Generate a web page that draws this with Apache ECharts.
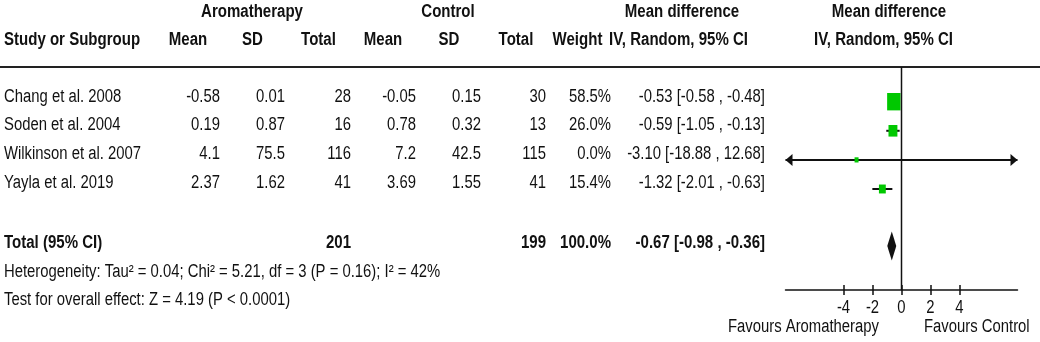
<!DOCTYPE html>
<html>
<head>
<meta charset="utf-8">
<script src="https://cdn.jsdelivr.net/npm/echarts@6/dist/echarts.min.js"></script>
<style>
  html, body { margin: 0; padding: 0; background: #fff; }
  #chart { width: 1040px; height: 342px; }
</style>
</head>
<body>
<div id="chart"></div>
<script>
// study data
const studies = ['Chang et al. 2008', 'Soden et al. 2004', 'Wilkinson et al. 2007', 'Yayla et al. 2019'];
const aromaMean = [-0.58, 0.19, 4.1, 2.37];
const aromaSD = [0.01, 0.87, 75.5, 1.62];
const aromaN = [28, 16, 116, 41];
const ctrlMean = [-0.05, 0.78, 7.2, 3.69];
const ctrlSD = [0.15, 0.32, 42.5, 1.55];
const ctrlN = [30, 13, 115, 41];
const weight = [58.5, 26.0, 0.0, 15.4];
const md = [-0.53, -0.59, -3.10, -1.32];
const ciLow = [-0.58, -1.05, -18.88, -2.01];
const ciHigh = [-0.48, -0.13, 12.68, -0.63];

// pooled result
const totalAromaN = 201;
const totalCtrlN = 199;
const totalMd = -0.67;
const totalLow = -0.98;
const totalHigh = -0.36;

const axisTicks = [-4, -2, 0, 2, 4];
const heterogeneity = 'Heterogeneity: Tau\u00b2 = 0.04; Chi\u00b2 = 5.21, df = 3 (P = 0.16); I\u00b2 = 42%';
const overallEffect = 'Test for overall effect: Z = 4.19 (P < 0.0001)';

const FONT = "'Liberation Sans', Arial, sans-serif";
const INK = '#111';
const GREEN = '#00c800';
const FS = 18;
// the source uses a narrow face; squeeze the regular one
const SQUEEZE = 0.825;
const SQUEEZE_BOLD = 0.835;

const fmt2 = v => v.toFixed(2);
const ciText = (m, lo, hi) => `${fmt2(m)} [${fmt2(lo)} , ${fmt2(hi)}]`;

// right edges of the numeric table columns
const colRight = [220, 285, 351, 416, 481, 546, 611, 765];
const TOTAL_TEXT_ROW = 5.08;
const TOTAL_PLOT_ROW = 4.96;

const tableRows = studies.map((name, i) => ({
    row: i,
    bold: false,
    cells: [name, String(aromaMean[i]), String(aromaSD[i]), String(aromaN[i]),
        String(ctrlMean[i]), String(ctrlSD[i]), String(ctrlN[i]),
        weight[i].toFixed(1) + '%', ciText(md[i], ciLow[i], ciHigh[i])]
}));
tableRows.push({
    row: TOTAL_TEXT_ROW,
    bold: true,
    cells: ['Total (95% CI)', '', '', String(totalAromaN), '', '', String(totalCtrlN),
        '100.0%', ciText(totalMd, totalLow, totalHigh)]
});

const X_MIN = -8, X_MAX = 8;
const Y_MIN = -1.192, Y_MAX = 6.471;

// text anchored at (x, y), squeezed horizontally around the anchor
const txt = (text, x, y, align, bold) => ({
    type: 'text',
    silent: true,
    x, y,
    scaleX: bold ? SQUEEZE_BOLD : SQUEEZE,
    scaleY: 1,
    style: {
        text, x: 0, y: 0,
        align: align, verticalAlign: 'middle',
        fontSize: FS, fontFamily: FONT, fontWeight: bold ? 'bold' : 'normal',
        fill: INK
    }
});

const chart = echarts.init(document.getElementById('chart'));

const option = {
    animation: false,
    backgroundColor: '#fff',
    grid: [
        { left: 785.5, width: 232, top: 67, height: 223 },   // forest plot
        { left: 0, width: 1040, top: 67, height: 223 }        // table text
    ],
    xAxis: [
        {
            gridIndex: 0, type: 'value', min: X_MIN, max: X_MAX, position: 'bottom',
            axisLine: { onZero: false, lineStyle: { color: INK, width: 1.5 } },
            axisTick: { customValues: axisTicks, inside: true, length: 5, lineStyle: { color: INK, width: 1.5 } },
            axisLabel: { show: false },
            splitLine: { show: false }
        },
        {
            gridIndex: 0, type: 'value', min: X_MIN, max: X_MAX, position: 'bottom', offset: 0,
            axisLine: { show: false, onZero: false },
            axisTick: { customValues: axisTicks, inside: false, length: 5, lineStyle: { color: INK, width: 1.5 } },
            axisLabel: { show: false },
            splitLine: { show: false }
        },
        { gridIndex: 1, type: 'value', min: 0, max: 1040, show: false }
    ],
    yAxis: [
        { gridIndex: 0, type: 'value', min: Y_MIN, max: Y_MAX, inverse: true, show: false },
        { gridIndex: 1, type: 'value', min: -1.031, max: 6.712, inverse: true, show: false }
    ],
    graphic: [
        { type: 'line', silent: true, shape: { x1: 0, y1: 67, x2: 1040, y2: 67 }, style: { stroke: '#222', lineWidth: 2 } },
        txt('Aromatherapy', 252, 12, 'center', true),
        txt('Control', 448, 12, 'center', true),
        txt('Mean difference', 682, 12, 'center', true),
        txt('Mean difference', 889, 12, 'center', true),
        txt('Study or Subgroup', 4, 40, 'left', true),
        txt('Mean', 188, 40, 'center', true),
        txt('SD', 252.5, 40, 'center', true),
        txt('Total', 318.5, 40, 'center', true),
        txt('Mean', 383, 40, 'center', true),
        txt('SD', 449, 40, 'center', true),
        txt('Total', 516, 40, 'center', true),
        txt('Weight', 577.5, 40, 'center', true),
        txt('IV, Random, 95% CI', 678.5, 40, 'center', true),
        txt('IV, Random, 95% CI', 883.5, 40, 'center', true),
        txt(heterogeneity, 4, 272, 'left', false),
        txt(overallEffect, 4, 300, 'left', false),
        txt('Favours Aromatherapy', 879, 327, 'right', false),
        txt('Favours Control', 924, 327, 'left', false)
    ],
    series: [
        {
            // table body
            type: 'custom',
            xAxisIndex: 2, yAxisIndex: 1,
            silent: true,
            data: tableRows.map(r => [0, r.row]),
            renderItem: (params, api) => {
                const r = tableRows[params.dataIndex];
                const y = api.coord([0, api.value(1)])[1];
                const children = [txt(r.cells[0], 4, y, 'left', r.bold)];
                colRight.forEach((cx, k) => {
                    const s = r.cells[k + 1];
                    if (s) children.push(txt(s, api.coord([cx, 0])[0], y, 'right', r.bold));
                });
                return { type: 'group', children };
            }
        },
        {
            // zero line
            type: 'line',
            xAxisIndex: 0, yAxisIndex: 0,
            silent: true, symbol: 'none',
            data: [[0, Y_MIN], [0, Y_MAX]],
            lineStyle: { color: INK, width: 1.5 }
        },
        {
            // axis tick labels (narrow face, so drawn here)
            type: 'custom',
            xAxisIndex: 0, yAxisIndex: 0,
            silent: true,
            clip: false,
            data: axisTicks.map(v => [v, Y_MAX]),
            renderItem: (params, api) => {
                const p = api.coord([api.value(0), api.value(1)]);
                return txt(String(api.value(0)), p[0], p[1] + 18, 'center', false);
            }
        },
        {
            // study estimates with CI
            type: 'custom',
            xAxisIndex: 0, yAxisIndex: 0,
            silent: true,
            data: studies.map((_, i) => [md[i], ciLow[i], ciHigh[i], i, weight[i]]),
            renderItem: (params, api) => {
                const m = api.value(0), lo = api.value(1), hi = api.value(2), r = api.value(3), w = api.value(4);
                const clamp = v => Math.max(X_MIN, Math.min(X_MAX, v));
                const y = api.coord([0, r])[1];
                const xl = api.coord([clamp(lo), r])[0];
                const xh = api.coord([clamp(hi), r])[0];
                const xm = api.coord([m, r])[0];
                const children = [{
                    type: 'line',
                    shape: { x1: xl, y1: y, x2: xh, y2: y },
                    style: { stroke: INK, lineWidth: 2 }
                }];
                if (lo < X_MIN) {
                    children.push({ type: 'polygon', shape: { points: [[xl, y], [xl + 7, y - 6], [xl + 7, y + 6]] }, style: { fill: INK } });
                }
                if (hi > X_MAX) {
                    children.push({ type: 'polygon', shape: { points: [[xh, y], [xh - 7, y - 6], [xh - 7, y + 6]] }, style: { fill: INK } });
                }
                const s = Math.max(4, Math.sqrt(w) * 1.75);
                const h = s * 1.3;
                children.push({ type: 'rect', shape: { x: xm - s / 2, y: y - h / 2, width: s, height: h }, style: { fill: GREEN } });
                return { type: 'group', children };
            }
        },
        {
            // pooled diamond
            type: 'custom',
            xAxisIndex: 0, yAxisIndex: 0,
            silent: true,
            data: [[totalMd, totalLow, totalHigh, TOTAL_PLOT_ROW]],
            renderItem: (params, api) => {
                const m = api.value(0), lo = api.value(1), hi = api.value(2), r = api.value(3);
                const y = api.coord([0, r])[1];
                const xl = api.coord([lo, r])[0], xh = api.coord([hi, r])[0], xm = api.coord([m, r])[0];
                return {
                    type: 'polygon',
                    shape: { points: [[xl, y], [xm, y - 14.5], [xh, y], [xm, y + 14.5]] },
                    style: { fill: INK }
                };
            }
        }
    ]
};

chart.setOption(option);
</script>
</body>
</html>
